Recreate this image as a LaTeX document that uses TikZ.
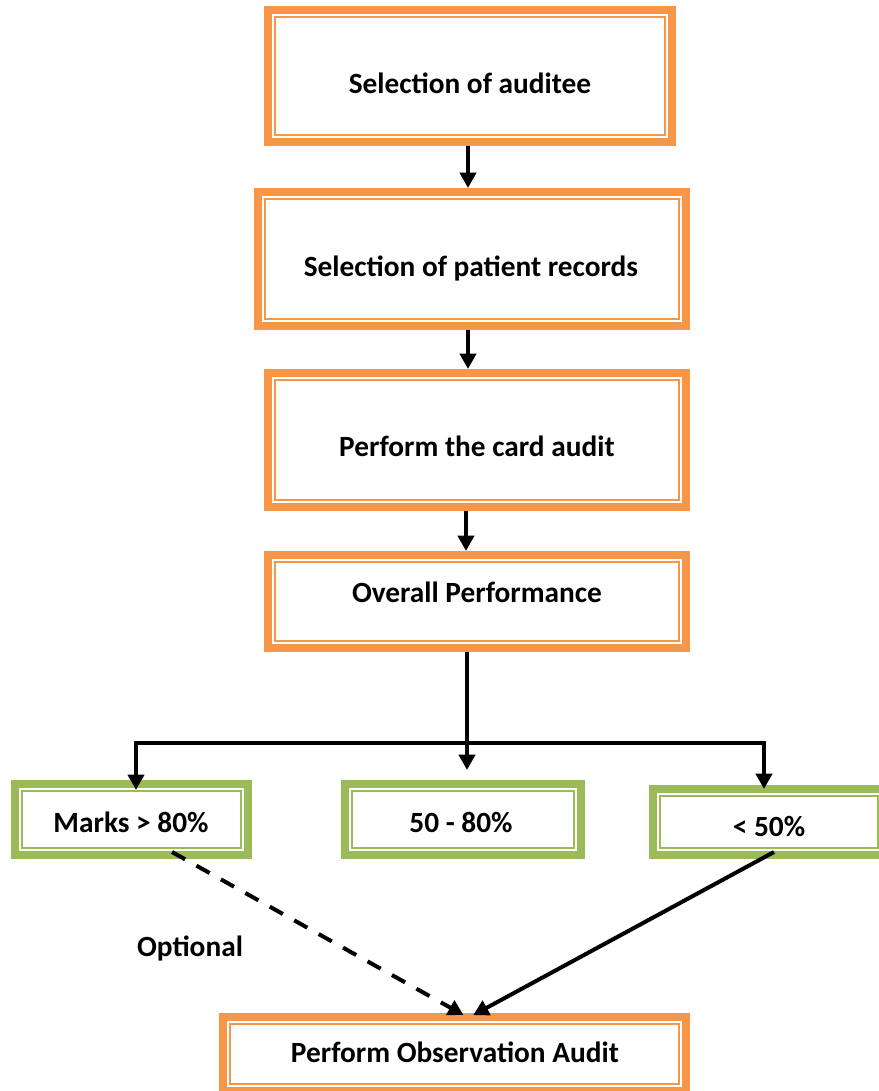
\documentclass[tikz,border=0pt]{standalone}
\usepackage{fontspec}
\setmainfont{Carlito}
\usetikzlibrary{arrows.meta,calc}
\definecolor{org}{HTML}{F79646}
\definecolor{grn}{HTML}{9BBB59}
\begin{document}
\begin{tikzpicture}[x=0.75pt,y=-0.75pt,
  box/.style={draw=#1, line width=6pt, outer sep=0pt, inner sep=0pt, fill=white},
  lbl/.style={font=\bfseries\fontsize{22}{24}\selectfont, anchor=base, inner sep=0pt},
  arr/.style={line width=3pt, -{Triangle[length=11.5pt,width=12pt]}},
  conn/.style={line width=3pt},
  dsh/.style={line width=3pt, dash pattern=on 11.25pt off 9.75pt, -{Triangle[length=11.5pt,width=12pt]}}]
\useasboundingbox (0,0) rectangle (878,1091);
\newcommand{\innerline}[2]{\draw[#2, line width=1.5pt] ([shift={(7,7)}]#1.north west) rectangle ([shift={(-7,-7)}]#1.south east);}
% boxes
\node[box=org, minimum width=303pt, minimum height=99pt] (B1) at (470,76) {};
\node[box=org, minimum width=321pt, minimum height=100.5pt] (B2) at (472,259) {};
\node[box=org, minimum width=313.5pt, minimum height=100.5pt] (B3) at (477,440) {};
\node[box=org, minimum width=313.5pt, minimum height=69.75pt] (B4) at (477,601.5) {};
\node[box=grn, minimum width=174.75pt, minimum height=53.25pt] (G1) at (131.5,819.5) {};
\node[box=grn, minimum width=177pt, minimum height=53.25pt] (G2) at (463,819.5) {};
\node[box=grn, minimum width=174pt, minimum height=49.5pt] (G3) at (769,822) {};
\node[box=org, minimum width=347.25pt, minimum height=55.5pt] (B5) at (454.5,1054) {};
\innerline{B1}{org}
\innerline{B2}{org}
\innerline{B3}{org}
\innerline{B4}{org}
\innerline{G1}{grn}
\innerline{G2}{grn}
\innerline{G3}{grn}
\innerline{B5}{org}
% texts
\node[lbl] (T1) at (470,93.5) {Selection of auditee};
\node[lbl] (T2) at (471,276.5) {Selection of patient records};
\node[lbl] (T3) at (477,456.5) {Perform the card audit};
\node[lbl] (T4) at (477,602.5) {Overall Performance};
\node[lbl] (T5) at (131,832.5) {Marks > 80\%};
\node[lbl] (T6) at (461,832.5) {50 - 80\%};
\node[lbl] (T7) at (769,836.5) {< 50\%};
\node[lbl] (T8) at (455,1062.5) {Perform Observation Audit};
\node[lbl] (T9) at (190,956.5) {Optional};
% connectors
\draw[arr, shorten <=3pt, shorten >=3pt] ([xshift=-1.5pt]B1.south) -- ([xshift=-1.5pt]B1.south |- B2.north);
\draw[arr, shorten <=3pt, shorten >=3pt] ([xshift=-3pt]B2.south) -- ([xshift=-3pt]B2.south |- B3.north);
\draw[arr, shorten <=3pt, shorten >=3pt] ([xshift=-8.25pt]B3.south) -- ([xshift=-8.25pt]B3.south |- B4.north);
\draw[arr, shorten <=3pt, shorten >=10.5pt] ([xshift=-7.5pt]B4.south) -- ([xshift=-7.5pt]B4.south |- G2.north);
\coordinate (L) at (136,743);
\coordinate (R) at (764,743);
\draw[conn] ([xshift=-1.5pt]L) -- ([xshift=1.5pt]R);
\draw[arr, shorten >=-4.5pt] (L) -- (L |- G1.north);
\draw[arr] (R) -- (R |- G3.north);
\coordinate (E) at ([xshift=9.4pt]B5.north);
\draw[dsh, shorten >=3pt] ([xshift=30.4pt,yshift=2.25pt]G1.south) -- (E);
\draw[arr, shorten >=3pt] ([xshift=3.75pt,yshift=2.25pt]G3.south) -- ([xshift=2pt]E);
\end{tikzpicture}
\end{document}
